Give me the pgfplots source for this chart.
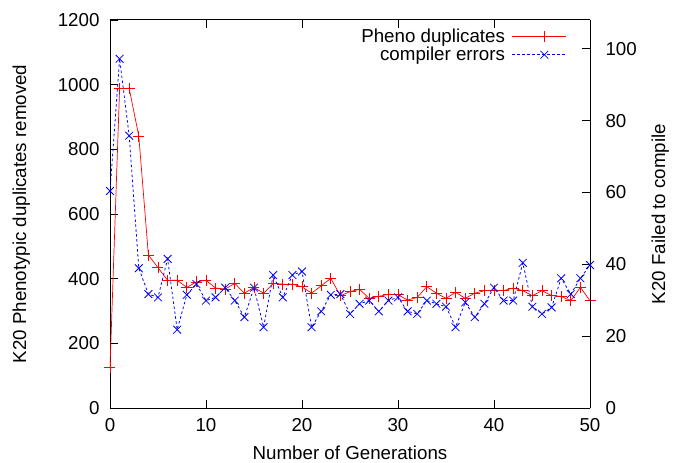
\documentclass[border=0pt]{standalone}
\usepackage{pgfplots}
\pgfplotsset{compat=1.18}
\usepackage{fontspec}
\setmainfont{Liberation Sans}

\pgfplotstableread{
gen dup
0 125
1 988
2 988
3 841
4 473
5 434
6 395
7 395
8 373
9 390
10 395
11 371
12 368
13 385
14 355
15 373
16 355
17 385
18 383
19 383
20 375
21 355
22 378
23 401
24 347
25 360
26 367
27 339
28 345
29 352
30 350
31 334
32 342
33 375
34 355
35 339
36 358
37 339
38 355
39 363
40 363
41 363
42 371
43 363
44 347
45 363
46 348
47 345
48 332
49 373
50 332
}\phenodata

\pgfplotstableread{
gen err
0 60.4
1 97.2
2 75.8
3 38.9
4 31.7
5 30.8
6 41.5
7 21.8
8 31.5
9 34.5
10 29.9
11 30.8
12 33.5
13 29.9
14 25.3
15 33.5
16 22.5
17 37.0
18 30.8
19 37.0
20 38.0
21 22.5
22 26.9
23 31.5
24 31.7
25 26.2
26 29.0
27 29.9
28 26.9
29 29.9
30 30.8
31 26.9
32 26.2
33 29.9
34 29.0
35 28.2
36 22.5
37 29.4
38 25.3
39 29.0
40 33.5
41 29.9
42 29.9
43 40.4
44 28.2
45 26.2
46 28.0
47 36.1
48 31.7
49 36.1
50 39.8
}\errdata

\pgfplotsset{
  common/.style={
    scale only axis, width=480bp, height=388bp,
    xmin=0, xmax=50,
    /pgf/number format/assume math mode=true,
    /pgf/number format/1000 sep={},
    tick label style={font=\fontsize{18.8}{21}\selectfont},
    label style={font=\fontsize{18.8}{21}\selectfont},
    tick style={black, line width=0.8pt},
    major tick length=8bp,
    axis line style={line width=1pt},
  }
}

\begin{document}
\begin{tikzpicture}
\begin{axis}[common,
  ymin=0, ymax=1200,
  ytick={0,200,...,1200},
  xtick={0,10,...,50},
  axis y line*=left,
  yticklabel style={xshift=-7bp},
  xticklabel style={yshift=-7bp},
  xlabel={Number of Generations},
  ylabel={K20 Phenotypic duplicates removed},
  ylabel style={yshift=21bp},
  xlabel style={inner sep=0pt, yshift=-10.5bp},
  legend style={draw=none, fill=none, at={(480bp-23bp,388bp-7bp)}, anchor=north east,
    font=\fontsize{18.8}{21}\selectfont, row sep=-1pt, column sep=5bp, inner sep=0pt},
  legend cell align=right,
  legend plot pos=right,
]
\addplot[red, line width=0.7pt, mark=+, mark size=5.5bp, mark options={solid, red}, forget plot] table[x=gen, y=dup] {\phenodata};
\addlegendimage{legend image code/.code={
  \draw[red, line width=0.7pt] (0bp,0bp) -- (54bp,0bp);
  \draw[red, line width=0.7pt] plot[mark=+, mark size=5.5bp] coordinates {(32bp,0bp)};}}
\addlegendentry{Pheno duplicates}
\addlegendimage{legend image code/.code={
  \draw[blue, line width=0.8pt, dash pattern=on 2.5pt off 2.5pt] (0bp,0bp) -- (54bp,0bp);
  \draw[blue, line width=0.8pt] plot[mark=x, mark size=5.5bp] coordinates {(32bp,0bp)};}}
\addlegendentry{compiler errors}
\end{axis}
\begin{axis}[common,
  ymin=0, ymax=108,
  ytick={0,20,...,100},
  axis y line*=right,
  axis x line=none,
  yticklabel style={xshift=12bp},
  ylabel={K20 Failed to compile},
  ylabel style={yshift=-8bp},
]
\addplot[blue, line width=0.8pt, dash pattern=on 2.5pt off 2.5pt, mark=x, mark size=5.5bp, mark options={solid, blue}] table[x=gen, y=err] {\errdata};
\end{axis}
\path (current axis.south west) ++(-110bp,-55bp) rectangle ++(674bp,463bp);
\end{tikzpicture}
\end{document}
